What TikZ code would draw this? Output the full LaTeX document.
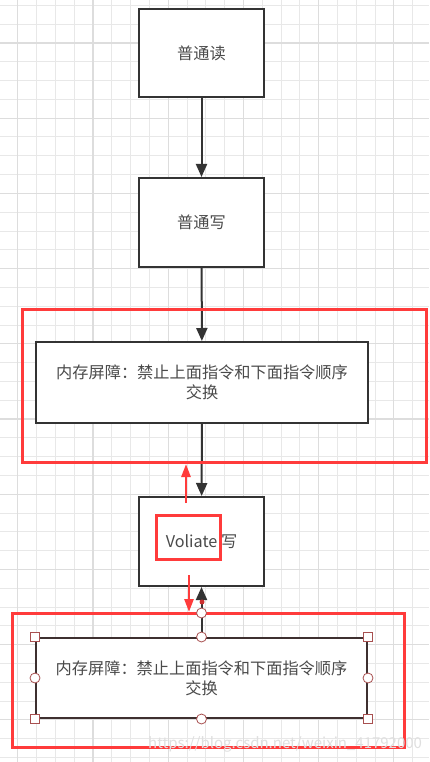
\documentclass[tikz,border=0pt]{standalone}
\usepackage{fontspec}
\usepackage{xcolor}
\usepackage{tikz}
\usetikzlibrary{arrows.meta}
\newfontfamily\cjk{Noto Sans CJK SC}
\definecolor{ink}{HTML}{333333}
\definecolor{txt}{HTML}{4A4A4A}
\definecolor{hot}{HTML}{FF3B3B}
\definecolor{gridA}{HTML}{E8E8E8}
\definecolor{gridB}{HTML}{DDDDDD}
\definecolor{sel}{HTML}{3E3030}
\definecolor{hdl}{HTML}{A85050}
\tikzset{
  minorgrid/.style={draw=gridA, line width=1pt},
  majorgrid/.style={draw=gridB, line width=1.3pt},
  box/.style={draw=ink, line width=2pt, fill=white, text=txt, align=center,
    font=\cjk\fontsize{16.2}{20}\selectfont},
  flow/.style={draw=ink, line width=2pt, -{Triangle[length=13pt,width=11pt]}},
  hotbox/.style={draw=hot, line width=3pt},
  hotarrow/.style={draw=hot, line width=2.6pt, -{Triangle[length=13pt,width=9pt]}},
  sq/.style={draw=hdl, fill=white, line width=0.8pt, minimum size=9pt, inner sep=0pt},
  rd/.style={circle, draw=hdl, fill=white, line width=0.8pt, minimum size=10pt, inner sep=0pt}
}

\begin{document}
\begin{tikzpicture}[x=1pt,y=-1pt]
  \useasboundingbox (0,0) rectangle (429,762);
  \fill[white] (0,0) rectangle (429,762);

  % grid
  \foreach \i in {0,...,22} \draw[minorgrid] ({17.8+18.8*\i},0) -- ++(0,762);
  \foreach \i in {0,...,40} \draw[minorgrid] (0,{5.4+18.8*\i}) -- ++(429,0);
  \foreach \i in {0,...,5} \draw[majorgrid] ({17.8+75.2*\i},0) -- ++(0,762);
  \foreach \i in {0,...,10} \draw[majorgrid] (0,{43+75.2*\i}) -- ++(429,0);

  % boxes
  \node[box, minimum width=125pt, minimum height=88pt] (read) at (201.5,53) {普通读};
  \node[box, minimum width=125pt, minimum height=89pt] (write) at (201.5,222.5) {普通写};
  \node[box, minimum width=332pt, minimum height=81pt] (barA) at (202,382.5)
    {内存屏障：禁止上面指令和下面指令顺序\\交换};
  \node[box, minimum width=125pt, minimum height=89pt] (vwrite) at (201.5,541.5)
    {Voliate 写};
  \node[box, draw=sel, minimum width=331pt, minimum height=80pt] (barB) at (201.5,678)
    {内存屏障：禁止上面指令和下面指令顺序\\交换};

  % connectors
  \draw[flow] (read) -- (write);
  \draw[flow] (write) -- (barA);
  \draw[flow] (barA) -- (vwrite);
  \draw[flow] (barB) -- (vwrite);

  % highlights
  \draw[hotbox] (22,309) rectangle (426,462);
  \draw[hotbox] (156,515) rectangle (220,559);
  \draw[hotbox] (12,613) rectangle (404,747);

  \coordinate (upFrom) at (186,503);
  \coordinate (upTo) at (186,464);
  \coordinate (dnFrom) at (189,575);
  \coordinate (dnTo) at (189,612);
  \draw[hotarrow] (upFrom) -- (upTo);
  \draw[hotarrow] (dnFrom) -- (dnTo);

  % selection handles
  \node[rd] (hEnd) at (201.5,613) {};
  \fill[hot!80!black] (202,602) circle (2.5pt);
  \node[sq] (hNW) at (barB.north west) {};
  \node[sq] (hNE) at (barB.north east) {};
  \node[sq] (hSW) at (barB.south west) {};
  \node[sq] (hSE) at (barB.south east) {};
  \node[rd] (hN) at (barB.north) {};
  \node[rd] (hS) at (barB.south) {};
  \node[rd] (hW) at (barB.west) {};
  \node[rd] (hE) at (barB.east) {};

  \node[text=gray!25, font=\cjk\fontsize{15}{18}\selectfont, anchor=west, inner sep=0pt] (mark) at (148,744)
    {https://blog.csdn.net/weixin\_41792000};
\end{tikzpicture}
\end{document}
